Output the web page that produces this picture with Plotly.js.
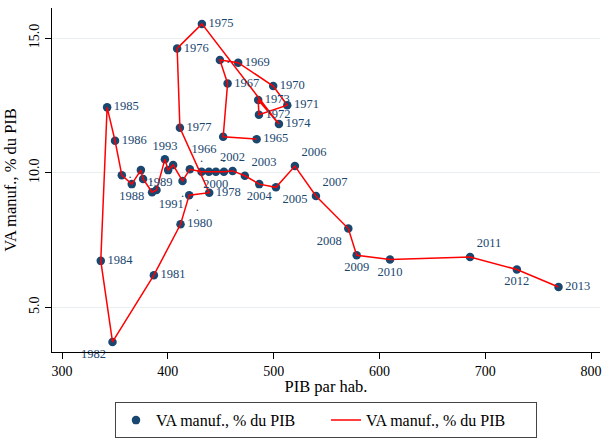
<!DOCTYPE html>
<html>
<head>
<meta charset="utf-8">
<script src="https://cdn.plot.ly/plotly-3.0.1.min.js"></script>
<style>html,body{margin:0;padding:0;background:#fff;}#chart{width:605px;height:445px;}</style>
</head>
<body>
<div id="chart"></div>
<script>
// Years (1983 absent from the series)
var years = [1965,1966,1967,1968,1969,1970,1971,1972,1973,1974,1975,1976,1977,1978,1979,1980,1981,1982,1984,1985,1986,1987,1988,1989,1990,1991,1992,1993,1994,1995,1996,1997,1998,1999,2000,2001,2002,2003,2004,2005,2006,2007,2008,2009,2010,2011,2012,2013];
// PIB par hab.
var pib = [483.9,452.3,456.5,449.2,466.5,499.6,512.9,486.1,485.4,505.0,432.2,408.8,411.4,439.1,420.2,412.0,386.8,347.7,336.6,342.6,350.1,356.5,365.9,374.5,376.6,385.1,389.3,397.2,400.3,405.0,413.9,420.8,431.9,438.8,445.4,453.0,461.2,472.8,486.4,502.2,520.1,540.0,570.6,578.5,610.0,685.7,729.9,769.3];
// VA manuf., % du PIB
var vaManuf = [11.25,11.34,13.32,14.19,14.09,13.22,12.51,12.16,12.70,11.81,15.53,14.62,11.67,9.26,9.17,8.09,6.20,3.72,6.73,12.43,11.19,9.91,9.58,10.10,9.77,9.28,9.36,10.50,10.10,10.29,9.70,10.13,10.04,10.04,10.04,10.04,10.07,9.89,9.58,9.46,10.25,9.14,7.93,6.94,6.78,6.87,6.41,5.76];
// Point labels as shown
var pointLabels = ["1965","1966","1967",".","1969","1970","1971","1972","1973","1974","1975","1976","1977","1978",".","1980","1981","1982","1984","1985","1986",".","1988","1989",".","1991","","1993","","",".","",".","","2000",".","2002","2003","2004","2005","2006","2007","2008","2009","2010","2011","2012","2013"];
var labelPos = ["middle right","bottom left","middle right","middle right","middle right","middle right","middle right","middle right","middle right","middle right","middle right","middle right","middle right","middle right","bottom right","middle right","middle right","bottom left","middle right","middle right","middle right","middle right","bottom center","bottom right","middle right","bottom right","middle right","top center","middle right","middle right","bottom center","middle right","top center","middle right","bottom center","top center","top center","top right","bottom center","bottom right","top right","top right","bottom left","bottom center","bottom center","top right","bottom center","middle right"];

var navy = '#1a476f';
var serif = 'Liberation Serif, Times New Roman, serif';

var traces = [
  {x: pib, y: vaManuf, type: 'scatter', mode: 'markers', name: 'VA manuf., % du PIB',
   marker: {color: navy, size: 8.5}, cliponaxis: false},
  {x: pib, y: vaManuf, type: 'scatter', mode: 'lines', name: 'VA manuf., % du PIB',
   line: {color: '#ff0000', width: 1.5}, cliponaxis: false},
  {x: pib, y: vaManuf, type: 'scatter', mode: 'markers+text', text: pointLabels, textposition: labelPos,
   marker: {size: 9, opacity: 0, color: navy},
   textfont: {family: serif, size: 12.5, color: navy}, showlegend: false, cliponaxis: false, hoverinfo: 'skip'}
];

var layout = {
  width: 605, height: 445,
  margin: {l: 52, r: 5, t: 8, b: 93},
  paper_bgcolor: '#ffffff', plot_bgcolor: '#ffffff',
  font: {family: serif, color: '#000'},
  xaxis: {
    range: [290.5, 808.5], tickvals: [300,400,500,600,700,800],
    showline: true, linecolor: '#000', linewidth: 1, ticks: 'outside', ticklen: 6, tickcolor: '#000',
    showgrid: false, zeroline: false, tickfont: {family: serif, size: 14, color: '#000'},
    title: {text: 'PIB par hab.', font: {family: serif, size: 16.5, color: '#000'}, standoff: 2}
  },
  yaxis: {
    range: [3.346, 16.12], tickvals: [5,10,15], ticktext: ['5.0','10.0','15.0'], tickangle: -90,
    showline: true, linecolor: '#000', linewidth: 1, ticks: 'outside', ticklen: 6, tickcolor: '#000',
    showgrid: true, gridcolor: '#e8eff1', gridwidth: 1, zeroline: false,
    tickfont: {family: serif, size: 14, color: '#000'},
    title: {text: 'VA manuf., % du PIB', font: {family: serif, size: 16.5, color: '#000'}, standoff: 6}
  },
  showlegend: true,
  legend: {orientation: 'h', x: 0.5, xanchor: 'center', y: -0.146, yanchor: 'top',
    bordercolor: '#444', borderwidth: 1, font: {family: serif, size: 16, color: '#000'},
    entrywidth: 165, traceorder: 'normal'}
};

Plotly.newPlot('chart', traces, layout, {staticPlot: true});
</script>
</body>
</html>
